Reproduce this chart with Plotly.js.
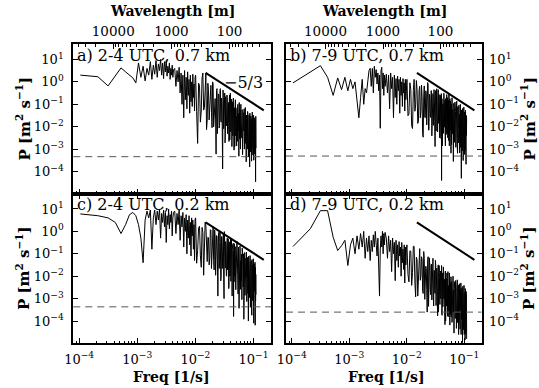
<!DOCTYPE html>
<html>
<head>
<meta charset="utf-8">
<script src="https://cdn.plot.ly/plotly-3.0.1.min.js"></script>
<style>html,body{margin:0;padding:0;background:#fff;}#plot{width:539px;height:388px;}</style>
</head>
<body>
<div id="plot"></div>
<script>
// Frequencies [Hz] of the plotted spectral estimates (shared by all panels)
const freq = [
0.000105,0.00021,0.000315,0.00042,0.000525,0.00063,0.000735,0.00084,0.000945,
0.00105,0.001155,0.00126,0.001365,0.00147,0.001575,0.00168,0.001785,0.00189,0.001995,0.0021,0.002205,0.00231,0.002415,0.00252,0.002625,0.00273,0.002835,0.00294,0.003045,0.00315,0.003255,0.00336,0.003465,0.00357,0.003675,0.00378,0.003885,0.00399,0.004095,0.0042,
0.00441,0.00462,0.00483,0.00504,0.00525,0.00546,0.00567,0.00588,0.00609,0.0063,0.00651,0.00672,0.00693,0.00714,0.00735,0.00756,0.00777,0.00798,0.00819,0.0084,0.00861,0.00882,0.00903,0.00924,0.00945,0.00966,0.00987,
0.01008,0.0105,0.01092,0.01134,0.01176,0.01218,0.0126,0.01302,0.01344,0.01386,0.01428,0.0147,0.01512,0.01554,0.01596,0.01638,0.0168,0.01722,0.01764,0.01806,
0.01848,0.0189,0.01932,0.01974,0.02016,0.02058,0.021,0.02142,0.02184,0.02226,0.02268,0.0231,0.02352,0.02394,0.02436,0.02478,0.0252,0.02562,0.02604,0.02646,
0.02688,0.0273,0.02772,0.02814,0.02856,0.02898,0.0294,0.02982,0.03024,0.03066,0.03108,0.0315,0.03192,0.03234,0.03276,0.03318,0.0336,0.03402,0.03444,0.03486,
0.03528,0.0357,0.03612,0.03654,0.03696,0.03738,0.0378,0.03822,0.03864,0.03906,0.03948,0.0399,0.04032,0.04074,0.04116,0.04158,0.042,0.04242,0.04284,0.04326,
0.04368,0.0441,0.04452,0.04494,0.04536,0.04578,0.0462,0.04662,0.04704,0.04746,0.04788,0.0483,0.04872,0.04914,0.04956,0.04998,0.0504,0.05082,0.05124,0.05166,
0.05208,0.0525,0.05292,0.05334,0.05376,0.05418,0.0546,0.05502,0.05544,0.05586,0.05628,0.0567,0.05712,0.05754,0.05796,0.05838,0.0588,0.05922,0.05964,0.06006,
0.06048,
0.06132,0.06216,0.063,0.06384,0.06468,0.06552,0.06636,0.0672,0.06804,
0.06888,0.06972,0.07056,0.0714,0.07224,0.07308,0.07392,0.07476,0.0756,0.07644,
0.07728,0.07812,0.07896,0.0798,0.08064,0.08148,0.08232,0.08316,0.084,0.08484,
0.08568,0.08652,0.08736,0.0882,0.08904,0.08988,0.09072,0.09156,0.0924,0.09324,
0.09408,0.09492,0.09576,0.0966,0.09744,0.09828,0.09912,0.09996,0.1008,0.10164,
0.10248,0.10332,0.10416,0.105,0.10584,0.10668,0.10752,0.10836,0.1092,0.11004
];

// a) 2-4 UTC, 0.7 km  [m^2 s^-1]
const powerA = [
2,1.7,0.66,2,4.2,2.8,2,1.5,0.9,
7,1.6,5,1.1,4,2,8,1.3,5.6,2.2,9,1.6,6.3,3.2,10,2,7,1.4,8,2.8,9,1.8,5,2.5,7,1.3,4,2,5.6,1.6,3.5,
4,0.63,3.2,1,4.5,0.32,2.5,0.1,2,0.025,3.2,0.16,1.6,0.063,2.8,0.25,1.3,0.04,2,0.13,1,0.08,2.2,0.2,0.8,0.05,1.6,
2,4.8e-2,1.8e-3,0.87,0.7,1.6e-2,5e-2,1.5,2.5,5.5e-2,7e-2,0.4,2.5,7.4e-3,2e-2,0.87,0.4,2e-2,7e-2,0.37,
0.7,4.4e-2,9e-3,1,0.8,9.8e-3,3e-2,0.18,0.18,2.2e-2,6e-4,0.41,0.5,4.9e-3,5e-2,0.29,0.25,8.7e-3,1.1e-2,0.41,
0.5,1.9e-2,1.6e-2,0.19,9e-2,5.6e-3,1.3e-4,0.43,0.2,8.1e-3,2e-2,0.12,0.32,1.9e-3,5e-3,0.22,9e-2,1.1e-2,1.3e-2,0.26,
0.2,4.9e-3,1.9e-2,7.4e-2,0.12,1.4e-2,2.2e-3,0.135,0.26,2.6e-3,8e-3,0.31,7.6e-2,5.9e-3,1.8e-2,8.9e-2,0.17,1.3e-3,3.3e-3,0.13,
5e-2,3.9e-3,7.6e-3,0.19,0.12,7.2e-3,9e-4,5.6e-2,7e-2,1.3e-3,1e-2,8.3e-2,0.16,5e-3,3.9e-3,0.12,3e-2,1.9e-3,1.4e-3,5.8e-2,
7e-2,2.2e-3,6.8e-3,8.5e-2,0.1,6.5e-3,1e-2,3.2e-2,3.9e-2,4.8e-4,1.9e-3,0.12,7.2e-2,2.8e-3,4.4e-3,5.5e-2,2.7e-2,1e-3,1e-3,4.1e-2,
0.1,
3.1e-3,3.8e-2,5.9e-3,5.8e-2,5.6e-4,2.8e-2,1.7e-3,4.2e-2,6.5e-3,
6.3e-2,1e-3,1.9e-2,3e-3,7.2e-2,1.8e-3,2.8e-2,2.7e-4,3.3e-2,4.1e-3,
2e-2,1e-3,4.8e-2,3e-3,2.9e-2,4.5e-4,1.4e-2,1.7e-3,3.3e-2,4.1e-3,
1.6e-4,4e-2,1.9e-3,1.9e-2,7.6e-4,3e-2,3e-3,1.5e-2,2.9e-4,2.3e-2,
1.1e-3,4.5e-2,2.2e-3,1.1e-2,5.4e-4,2.1e-2,1.3e-3,3.3e-2,3.2e-4,1.3e-2,
1.6e-3,2.5e-2,6.2e-4,1.5e-2,2.4e-3,1.9e-2,1.9e-4,3.5e-5,2.9e-2,1.1e-3
];

// b) 7-9 UTC, 0.7 km
const powerB = [
0.9,2.8,5.3,1.6,0.25,1.5,0.45,1.6,0.4,
1.3,0.5,1,0.16,0.025,0.2,1.3,0.1,0.5,0.32,1.6,3.2,4,0.63,4,0.32,5,1.6,3.5,0.8,2.5,0.4,2,8.5e-3,3.2,4.5,0.5,2.5,0.25,2,0.63,
2.2,0.32,2,0.063,2.5,0.5,1.6,0.025,2,0.2,1.4,0.1,1.8,0.4,1.3,0.04,1.6,0.25,1,0.08,1.4,0.32,0.9,0.05,1.3,0.16,0.8,
1.3,3.1e-2,3.7e-2,0.91,0.45,1.1e-2,8.3e-3,0.41,1.3,4.9e-2,9.4e-2,1.15,0.45,1.4e-2,1.7e-2,0.41,0.63,2.5e-2,4.7e-2,0.72,
0.22,4.4e-3,3.4e-3,0.21,0.66,2.6e-2,2.5e-2,0.4,0.31,1.2e-2,4.7e-2,0.93,0.72,7.1e-3,7e-3,0.28,0.21,3.3e-2,2.6e-2,0.41,
0.4,3.9e-3,1.2e-2,0.19,0.3,1.15e-2,4.5e-2,0.45,0.14,1.7e-2,1.3e-3,0.26,0.41,6.3e-3,2.5e-2,0.49,0.19,7.4e-3,5.8e-3,0.115,
0.45,1.7e-2,1.4e-2,0.27,0.13,3.2e-3,2.5e-2,0.16,0.25,9.5e-3,3e-3,0.3,4e-5,0.18,0.17,1.4e-3,1.35e-2,0.105,8.2e-2,6.5e-3,
5e-3,0.31,0.25,9.5e-3,1.5e-2,0.12,0.15,2.9e-3,1.4e-3,0.18,0.11,4.4e-3,2.2e-2,0.135,0.27,1e-2,5.2e-3,0.2,8.1e-2,3.2e-3,
7.9e-3,7.8e-2,0.155,6e-3,2.4e-3,0.3,5.9e-2,1.4e-3,9.1e-3,8.9e-2,0.18,6.9e-3,1.4e-2,0.135,0.107,3.3e-3,6.6e-4,0.1,8.1e-2,1.6e-3,
1e-2,
0.195,4.8e-3,5.9e-2,1.45e-2,2.8e-4,0.11,5.4e-3,6.6e-2,2e-3,
0.126,9.8e-3,4.8e-2,1.2e-3,7.2e-2,5.6e-3,0.138,2.7e-3,3.3e-2,6.5e-4,
7.9e-2,6.2e-3,4.8e-2,1.9e-3,9.1e-2,8.9e-3,3.5e-2,6.8e-4,5.2e-2,3.2e-3,
0.1,1.2e-3,2.4e-2,3.7e-3,5e-5,5.6e-2,4.4e-3,3.4e-2,8.3e-4,6.5e-2,
5e-3,4e-2,3.1e-4,2.4e-2,2.4e-3,7.5e-2,1.5e-3,1.9e-2,5.8e-4,4.5e-2,
3.5e-3,2.8e-2,8.7e-4,5.4e-2,2.1e-3,2.1e-2,2.1e-4,3.2e-2,4.1e-3,2.5e-2
];

// c) 2-4 UTC, 0.2 km
const powerC = [
6,5,4,2.5,0.8,2,5.6,7,5,
2,0.5,0.04,3.2,8,4,9,0.16,4,9,2,8,3.2,10,0.5,6.3,2.5,9,1.6,7,0.32,5,2,10,1.3,5.6,2.5,8,0.63,4,7,
8,0.8,6.3,2,9,0.4,5,1.6,7,0.2,4,1,5.6,0.1,3.2,0.5,5,0.25,2.5,0.08,4,0.63,3.2,0.16,2,0.05,3.5,
4,3.8e-2,0.14,1.4,1.7,8.1e-2,2.5e-2,1.5,0.9,1.1e-2,0.17,2.6,1.9,0.12,4.5e-2,0.55,0.52,3.2e-2,6.3e-2,1.2,
1.1,2.2e-2,8.4e-2,0.65,1.6,4.9e-2,1.9e-2,1.15,0.56,1.1e-2,0.105,0.65,0.63,4.9e-2,1.3e-3,0.36,0.9,2.2e-2,4.2e-2,1,
0.32,6.2e-3,9.5e-3,0.59,0.58,2.2e-2,5.5e-2,0.34,0.83,8.1e-3,1e-3,0.98,0.3,3.7e-2,2.3e-2,0.35,0.17,1.1e-2,1e-2,0.16,
0.5,1.9e-2,3e-2,0.47,0.29,2.8e-3,3.5e-3,0.34,0.105,1e-2,1.3e-2,0.155,0.48,5.9e-3,1.8e-2,0.45,0.14,1.7e-2,1.3e-3,0.16,
0.25,6.2e-3,2.5e-2,0.3,1.6e-4,0.12,5.6e-3,0.18,0.28,1.1e-2,1e-2,0.21,8e-2,4e-3,2.5e-3,7.8e-2,0.15,1.5e-2,1.45e-2,0.36,
0.28,5.5e-3,5.4e-3,0.107,8.3e-2,1.6e-3,2e-2,0.2,0.155,9.5e-3,3.7e-4,7.4e-2,9e-2,2.2e-3,8.7e-3,0.22,0.17,5.2e-3,2.6e-3,0.1,
5e-2,
6.1e-3,9.5e-2,9e-4,0.18,1.1e-2,5.4e-2,3.3e-3,0.1,1.2e-4,
6e-2,7.4e-3,0.115,1.4e-3,3.4e-2,3.3e-3,6.4e-2,1e-2,0.12,7.4e-4,
3.6e-2,3.5e-3,6.9e-2,1.7e-3,4.1e-2,1e-4,7.8e-2,4.8e-3,2.3e-2,1.1e-3,
4.4e-2,3.4e-3,8.3e-2,4.1e-4,2.5e-2,4.9e-3,4.8e-2,1.5e-3,2.9e-2,1.8e-4,
5.5e-2,2.1e-3,1.7e-2,8.1e-4,3.2e-2,3.1e-3,6e-2,4.7e-4,8e-5,1.4e-3,
3.5e-2,4.4e-4,1.7e-2,2.1e-3,4.2e-2,6.5e-5,2.5e-2,7.9e-4,1.2e-2,1.5e-3
];

// d) 7-9 UTC, 0.2 km
const powerD = [
0.21,1.3,8.4,8.4,0.55,0.14,0.23,0.4,0.03,
0.25,0.5,0.1,0.63,0.16,0.8,0.2,1,0.063,0.5,0.126,0.63,0.05,0.4,0.126,0.7,0.2,1,0.32,0.08,0.5,0.04,1.3e-3,0.16,0.63,0.2,1,0.1,0.8,0.25,0.9,
0.5,0.063,0.63,0.126,0.4,0.016,0.5,0.1,0.32,6.3e-3,0.4,0.05,0.25,0.025,0.35,0.08,0.2,0.01,0.32,0.04,0.16,0.02,0.25,5e-3,0.2,0.032,0.16,
0.25,1.2e-2,5.6e-3,0.135,0.13,3.9e-3,1.45e-2,0.22,0.21,5e-3,1.2e-3,7.1e-2,5.4e-2,1.3e-3,6e-3,0.115,0.17,6.6e-3,1e-2,7.4e-2,
5.6e-2,2.1e-3,1.7e-3,0.126,6.2e-2,9.3e-4,4.6e-3,2.8e-2,2.1e-2,2.6e-3,2.5e-4,4.8e-2,7.4e-2,4.5e-4,4.4e-3,6.6e-2,2.6e-2,2.5e-3,1.5e-3,2.9e-2,
3.5e-2,8.7e-4,4.2e-3,4.1e-2,6.3e-2,1.2e-3,4.7e-4,1.8e-2,1.8e-2,2.2e-3,1.7e-3,5.1e-2,3.2e-2,4.9e-4,3.7e-3,2.3e-2,1.1e-2,6.9e-4,1.7e-4,1.6e-2,
3.2e-2,2.5e-4,1.5e-3,3e-2,1.45e-2,8.9e-4,5.5e-4,8.5e-3,1.7e-2,1e-3,2e-3,1.95e-2,3e-2,2.3e-4,1.8e-4,1.4e-2,6.9e-3,4.3e-4,6.6e-4,2.6e-2,
1.6e-2,9.8e-4,1.2e-3,7.4e-3,7.2e-3,2.8e-4,6.9e-5,1.35e-2,1.7e-2,1e-4,7.9e-4,7.8e-3,7.6e-3,4.7e-4,1.4e-3,1.4e-2,8.7e-3,3.4e-4,1.7e-4,8.1e-3,
1.6e-2,1.55e-4,4.8e-4,3.8e-3,3.7e-3,4.6e-4,2.8e-4,1.4e-2,8.7e-3,1.1e-4,6.6e-5,5.2e-3,4.1e-3,2e-4,7.9e-4,7.8e-3,9.5e-3,1.5e-4,1.8e-4,5.8e-3,
4.5e-3,
8.7e-5,5.3e-3,5.1e-4,1e-2,2.5e-4,2.4e-3,2.9e-5,5.7e-3,3.5e-4,
2.7e-3,1.3e-4,6.4e-3,5e-4,3.1e-3,4.7e-5,3.7e-3,2.2e-4,6.9e-3,8.5e-5,
1.7e-3,2.6e-4,4e-3,2.5e-5,2.4e-3,3e-4,4.6e-3,1.1e-4,1.7e-3,4.3e-5,
2.6e-3,3.2e-4,5e-3,2.5e-5,1.9e-3,1.2e-4,2.9e-3,1.8e-4,1.1e-3,1.1e-5,
3.5e-3,1.35e-4,1.7e-3,4.1e-5,2.5e-3,2e-4,3.9e-3,2.5e-5,1.2e-3,7.6e-5,
1.9e-3,1.45e-5,2.8e-3,1.4e-4,8.7e-4,2.7e-5,2.1e-3,1.05e-4,1.3e-3,1.6e-5
];

// noise level (dashed) per panel a, b, c, d
const noiseLevels = [4.6e-4, 4.9e-4, 4.3e-4, 2.5e-4];
// -5/3 reference slope line
const slopeFreq = [0.015, 0.15];
const slopePower = [2.5, 0.054];
const slopeLabel = '\u22125/3';

const panelLabels = ['a) 2-4 UTC, 0.7 km', 'b) 7-9 UTC, 0.7 km', 'c) 2-4 UTC, 0.2 km', 'd) 7-9 UTC, 0.2 km'];
const freqTickVals = [1e-4, 1e-3, 1e-2, 1e-1];
const freqTickText = ['10<sup>\u22124</sup>', '10<sup>\u22123</sup>', '10<sup>\u22122</sup>', '10<sup>\u22121</sup>'];
const powerTickVals = [1e-4, 1e-3, 1e-2, 1e-1, 1, 10];
const powerTickText = ['10<sup>\u22124</sup>', '10<sup>\u22123</sup>', '10<sup>\u22122</sup>', '10<sup>\u22121</sup>', '10<sup>0</sup>', '10<sup>1</sup>'];
const waveTickVals = [100, 1000, 10000];
const waveTickText = ['100', '1000', '10000'];
const titleWave = '<b>Wavelength [m]</b>';
const titleFreq = '<b>Freq [1/s]</b>';
const titlePower = '<b>P [m<sup>2</sup> s<sup>\u22121</sup>]</b>';

// ---- layout helpers (styles / positions) ----
const FONT = 'DejaVu Serif';
const W = 539, H = 388;
const xDomL = [73.3 / W, 271 / W], xDomR = [286 / W, 481.5 / W];
const yDomT = [1 - 193.5 / H, 1 - 44 / H], yDomB = [1 - 343 / H, 1 - 193.5 / H];
const freqRange = [-4.1, -0.7];
const powerRange = [-4.98, 1.69];
const waveShift = 0.587; // log10 of advection speed (m/s) used for the wavelength axis
const waveRange = [waveShift - freqRange[0], waveShift - freqRange[1]];

function minorLog(lo, hi) {
  const out = [];
  for (let d = Math.floor(lo) - 1; d <= Math.ceil(hi); d++) {
    for (let m = 2; m <= 9; m++) {
      const v = m * Math.pow(10, d);
      const lv = Math.log10(v);
      if (lv > lo && lv < hi) out.push(v);
    }
  }
  return out;
}
const freqMinor = minorLog(freqRange[0], freqRange[1]);
const waveMinor = minorLog(waveRange[1], waveRange[0]);

const tickFont = {family: FONT, size: 13, color: '#000'};

function freqAxis(domain, anchor, labels, mirror) {
  return {
    type: 'log', range: freqRange, autorange: false, domain: domain, anchor: anchor,
    showline: true, linewidth: 2, linecolor: '#000', mirror: mirror,
    ticks: 'inside', ticklen: 5, tickwidth: 1, tickcolor: '#000',
    tickmode: 'array', tickvals: freqTickVals, ticktext: freqTickText,
    showticklabels: labels, tickfont: tickFont, ticklabelstandoff: 3,
    showgrid: false, zeroline: false,
    minor: {tickmode: 'array', tickvals: freqMinor, ticks: 'inside', ticklen: 2.5, tickwidth: 1, tickcolor: '#000', showgrid: false}
  };
}
function waveAxis(over, anchor) {
  return {
    type: 'log', range: waveRange, autorange: false, overlaying: over, anchor: anchor, side: 'top',
    showline: true, linewidth: 2, linecolor: '#000',
    ticks: 'inside', ticklen: 5, tickwidth: 1, tickcolor: '#000',
    tickmode: 'array', tickvals: waveTickVals, ticktext: waveTickText,
    tickfont: {family: FONT, size: 13.5, color: '#000'}, ticklabelstandoff: 1,
    showgrid: false, zeroline: false,
    minor: {tickmode: 'array', tickvals: waveMinor, ticks: 'inside', ticklen: 2.5, tickwidth: 1, tickcolor: '#000', showgrid: false}
  };
}
function powerAxis(domain, anchor, side) {
  return {
    type: 'log', range: powerRange, autorange: false, domain: domain, anchor: anchor, side: side,
    showline: true, linewidth: 2, linecolor: '#000', mirror: 'ticks',
    ticks: 'inside', ticklen: 5, tickwidth: 1, tickcolor: '#000',
    tickmode: 'array', tickvals: powerTickVals, ticktext: powerTickText,
    tickfont: tickFont, ticklabelstandoff: side === 'left' ? 5 : 3,
    showgrid: false, zeroline: false
  };
}

const series = [powerA, powerB, powerC, powerD];
const axisPairs = [['x', 'y'], ['x2', 'y2'], ['x3', 'y3'], ['x4', 'y4']];
const traces = [];
series.forEach((p, i) => {
  traces.push({type: 'scatter', mode: 'lines', x: freq, y: p, xaxis: axisPairs[i][0], yaxis: axisPairs[i][1],
    line: {color: '#000', width: 1}, hoverinfo: 'skip'});
  traces.push({type: 'scatter', mode: 'lines', x: slopeFreq, y: slopePower, xaxis: axisPairs[i][0], yaxis: axisPairs[i][1],
    line: {color: '#000', width: 2}, hoverinfo: 'skip'});
});
// wavelength axes carriers
traces.push({type: 'scatter', mode: 'lines', x: [], y: [], xaxis: 'x5', yaxis: 'y', hoverinfo: 'skip'});
traces.push({type: 'scatter', mode: 'lines', x: [], y: [], xaxis: 'x6', yaxis: 'y2', hoverinfo: 'skip'});

const shapes = noiseLevels.map((v, i) => ({
  type: 'line', xref: axisPairs[i][0] + ' domain', x0: 0, x1: 1, yref: axisPairs[i][1], y0: v, y1: v,
  line: {color: '#555', width: 1, dash: '7px,5px'}
}));

const labelPos = [[xDomL, yDomT], [xDomR, yDomT], [xDomL, yDomB], [xDomR, yDomB]];
const annotations = [];
panelLabels.forEach((t, i) => {
  const xd = labelPos[i][0], yd = labelPos[i][1];
  annotations.push({text: t, xref: 'paper', yref: 'paper', x: xd[0] + 2 / W, y: yd[1] - 11 / H,
    xanchor: 'left', yanchor: 'middle', showarrow: false, font: {family: FONT, size: 16, color: '#000'}});
});
annotations.push({text: titleWave, xref: 'paper', yref: 'paper', x: 172 / W, y: 1 - 11 / H, xanchor: 'center', yanchor: 'middle', showarrow: false, font: {family: FONT, size: 14, color: '#000'}});
annotations.push({text: titleWave, xref: 'paper', yref: 'paper', x: 384 / W, y: 1 - 11 / H, xanchor: 'center', yanchor: 'middle', showarrow: false, font: {family: FONT, size: 14, color: '#000'}});
annotations.push({text: titleFreq, xref: 'paper', yref: 'paper', x: 171 / W, y: 1 - 377 / H, xanchor: 'center', yanchor: 'middle', showarrow: false, font: {family: FONT, size: 14, color: '#000'}});
annotations.push({text: titleFreq, xref: 'paper', yref: 'paper', x: 386 / W, y: 1 - 377 / H, xanchor: 'center', yanchor: 'middle', showarrow: false, font: {family: FONT, size: 14, color: '#000'}});
[[23, 118.5], [23, 268], [528, 118.5], [528, 268]].forEach(p => {
  annotations.push({text: titlePower, xref: 'paper', yref: 'paper', x: p[0] / W, y: 1 - p[1] / H, textangle: -90,
    xanchor: 'center', yanchor: 'middle', showarrow: false, font: {family: FONT, size: 15, color: '#000'}});
});
annotations.push({text: slopeLabel, xref: 'paper', yref: 'paper', x: 243 / W, y: 1 - 82 / H, xanchor: 'center', yanchor: 'middle', showarrow: false, font: {family: FONT, size: 16, color: '#000'}});

const layout = {
  width: W, height: H, margin: {l: 0, r: 0, t: 0, b: 0, pad: 0},
  paper_bgcolor: '#fff', plot_bgcolor: '#fff', showlegend: false,
  xaxis: freqAxis(xDomL, 'y', false, false),
  xaxis2: freqAxis(xDomR, 'y2', false, false),
  xaxis3: freqAxis(xDomL, 'y3', true, 'ticks'),
  xaxis4: freqAxis(xDomR, 'y4', true, 'ticks'),
  xaxis5: waveAxis('x', 'y'),
  xaxis6: waveAxis('x2', 'y2'),
  yaxis: powerAxis(yDomT, 'x', 'left'),
  yaxis2: powerAxis(yDomT, 'x2', 'right'),
  yaxis3: powerAxis(yDomB, 'x3', 'left'),
  yaxis4: powerAxis(yDomB, 'x4', 'right'),
  shapes: shapes,
  annotations: annotations
};

Plotly.newPlot('plot', traces, layout, {displayModeBar: false, staticPlot: true});
</script>
</body>
</html>
